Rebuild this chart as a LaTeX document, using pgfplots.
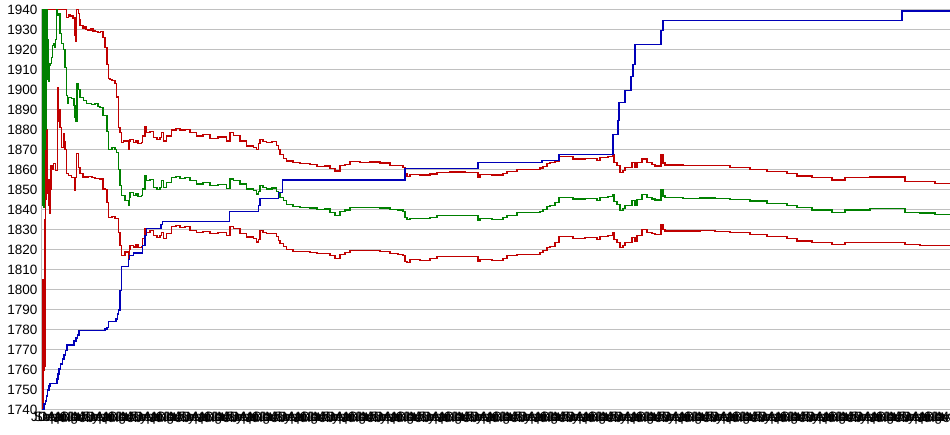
\documentclass[border=0pt]{standalone}
\usepackage{fontspec}
\setmainfont{Liberation Sans}
\usepackage{pgfplots}
\pgfplotsset{compat=1.18}
\usepackage{pgfplotstable}
\definecolor{cred}{HTML}{C00000}
\definecolor{cgreen}{HTML}{008000}
\definecolor{cblue}{HTML}{0000B8}
\definecolor{cgrid}{HTML}{C0C0C0}

\pgfplotstableread{
x up mid lo
100 1929 1891 1855.3
103 1926 1887 1850.3
105 1921 1887 1850
107 1912.5 1879 1843.7
108.3 1905.5 1870 1836
110 1905 1870 1836.3
112 1904.7 1871 1836.5
115 1903 1870 1835.5
116.7 1896.3 1868.5 1835.5
118.3 1881 1860 1828.8
120 1878.4 1852 1822.2
121.7 1873.5 1847 1817.3
123.3 1874.3 1847 1817.3
125 1874.3 1844.5 1818.9
128.3 1870.2 1842 1815.6
129.3 1874 1846 1820
130 1875.1 1848.7 1822.2
133.3 1873.5 1847 1821.4
136 1874.5 1848 1822.5
138 1873 1846.5 1821
141.7 1873.5 1847 1821.4
142.7 1876.8 1850.3 1825.5
145 1881.7 1857 1830.5
146.7 1878.4 1854.5 1828.8
150 1879 1855 1829.5
153.3 1876 1851 1827.2
157 1875 1850 1826
160 1876 1851 1827.2
161.7 1878.4 1854.5 1828.8
163.3 1874.3 1851 1825.5
166.7 1876.8 1853.6 1828
171.7 1879.8 1856 1831.8
176 1880.5 1856.5 1832.3
180 1879.8 1855.6 1831.3
185 1880 1856 1831.5
190 1878.4 1854.5 1829.7
196.7 1876.8 1852.8 1828.8
203 1877.5 1853.5 1829.3
210 1875.6 1852 1828
218 1876.3 1852.5 1828.5
226.7 1874.3 1850.7 1827.2
230 1878.4 1855.3 1831.7
233.3 1877.1 1854.5 1830.5
240 1874.3 1852.8 1828
246.7 1871.8 1850.3 1826.4
253.3 1871 1849.5 1825.5
256.7 1870.2 1847.9 1823.9
258.5 1873 1849 1825
260 1875.1 1852 1829.7
263 1874 1851 1828.5
266.7 1873.5 1850.3 1828
272 1874 1850.8 1828.3
276.7 1872 1849 1826.5
278.3 1870.2 1848 1824.7
280 1867.5 1846 1823
283.3 1865.5 1844.5 1821.5
286.7 1864.4 1842.5 1820
293 1863.5 1841.5 1819.3
300 1863 1841.2 1819
310 1862.5 1840.8 1818.8
317 1861.5 1840 1818
325 1861.8 1840.3 1818.3
330 1860.5 1838.5 1817
335 1859.4 1837 1815.5
340 1862 1839 1817.5
345 1862.5 1839.8 1818.5
350 1864 1841 1819.8
360 1863.5 1841 1819.5
370 1863.8 1841.2 1819.7
380 1863.3 1840.8 1819.3
390 1862.2 1840 1818
398 1862 1839.8 1817.8
403 1861 1839 1817
405 1858 1836 1814
407 1856.5 1835 1813.5
410 1857.5 1835.8 1815
420 1857.3 1835.5 1814.8
430 1857.8 1836 1815.5
437 1858.5 1837 1816.5
450 1858.8 1837.2 1816.8
465 1858.5 1837 1816.5
478 1856 1834.8 1814
480 1857.5 1835.5 1815
492 1857.3 1835.3 1814.8
503 1858 1836 1815.5
507 1859 1837 1817
517 1860 1838.5 1817.5
530 1860.2 1838.5 1817.7
540 1860.8 1839.2 1818.5
543 1861.5 1840 1819.5
547 1863 1841.5 1821
550 1863.6 1842 1821.5
555 1864 1843.5 1823.5
559 1866.6 1846 1826.5
573 1865.3 1845.3 1825.8
585 1865.6 1845.5 1826
597 1864.5 1844.7 1825.3
600 1866 1846 1826.8
608 1866.5 1846.5 1827.3
613 1867.7 1847.7 1828.5
614 1863.6 1844 1825
617 1862 1842.5 1823.5
620 1858.6 1839.5 1821
623 1859.5 1840.5 1822
625 1861 1842 1823.5
632 1863.6 1844.5 1826
635 1861 1842 1824
637 1863.6 1845 1827
642 1865.3 1847.5 1830.3
647 1863.6 1846 1828.8
652 1862.5 1845.3 1828.2
655 1861.8 1844.8 1827.8
661 1867.6 1850 1832.7
663 1863.4 1846.8 1830
665 1862.3 1846 1829.4
683 1862 1845.7 1829.4
700 1862.2 1845.9 1829.5
715 1862 1845.7 1829.3
730 1861 1845.2 1828.6
750 1860 1844.3 1827.8
767 1859 1843.2 1826.6
787 1858 1842.2 1825.6
797 1856.8 1841 1824.4
812 1856 1839.9 1823.6
832 1854.8 1838.5 1822.5
845 1856 1839.9 1823.6
870 1856.3 1840.5 1823.6
885 1856.3 1840.5 1823.8
905 1854 1838.5 1822.5
920 1854 1838.3 1822.3
935 1853.1 1837.7 1822
950 1853.1 1837.7 1822
}\bands

\pgfplotstableread{
x y
42.7 1940
66.7 1936
68.3 1937.5
70 1936.5
71.7 1937
73 1935.5
74.3 1936
75 1927
75.7 1924
76.3 1932
76.7 1940
78.3 1938
79.3 1935
80 1932
83 1930.5
85 1931.5
86 1930
88 1929.7
91 1930.3
93 1929.2
95 1929
98 1928.5
100 1929
}\upearly

\pgfplotstableread{
x y
42.5 1740
43 1805
43.4 1760
44 1770
44.5 1762
45 1835
45.5 1845
46 1895
46.5 1850
47 1880
47.7 1848
48.5 1855
49 1842
50 1838
50.5 1850
51 1862
52 1860
53.3 1863
55.7 1859.7
57.7 1901
58.3 1884
59 1890
60 1881
61.7 1871
63.3 1878
64.2 1874
65 1870
66.7 1858
68.3 1857
71.7 1856
74.3 1849.7
75.5 1856
76.7 1868
78.3 1861
80 1858
83 1856.3
88 1856.5
92 1856
95 1855.5
100 1855.3
}\loearly

\pgfplotstableread{
x y
42.3 1940
42.6 1842
42.9 1940
43.2 1845
43.5 1938
43.8 1841
44.1 1940
44.4 1855
44.7 1940
45 1870
45.3 1940
45.7 1880
46.1 1940
46.5 1905
46.9 1940
47.3 1915
47.7 1925
48.3 1919
48.8 1904
49.3 1912
50 1913
51.7 1916
52.5 1922
53.3 1923
55 1921
55.7 1925
56.5 1940
57.3 1937
58.3 1938
60 1928
61.7 1923
63.3 1920
65 1911
66.7 1897
67.5 1893
68.3 1896
71.7 1895.5
74 1892
75 1886
76 1884
77 1903
78.3 1900
80 1896
83.3 1894.5
86.7 1893
91.7 1892.5
95 1893
98 1891.5
100 1891
}\midearly

\pgfplotstableread{
x y
42 1740
44 1743
45.5 1744.5
46.5 1747
47.5 1750
49 1752
50 1753.3
57 1755.5
58 1758
59 1760.5
60.5 1763
62.5 1765.5
64 1767.5
65.5 1769.7
67 1772.5
74 1774.5
76 1776
77.5 1777.5
79 1779.7
105 1780.5
107 1781.3
108.5 1784.3
116 1785.5
117.5 1788
118.5 1790
120 1799.5
121.5 1811.5
128.3 1815.3
129.3 1817.3
133.3 1818.4
142.7 1822.2
145 1827.2
146.7 1830.5
161 1832.5
162.7 1834.1
229.3 1839
258.3 1842
260 1845.7
278.3 1848.7
282.7 1854.8
405 1860.5
478 1863.5
542 1864.5
559 1867.5
613 1877.5
618 1884.6
619 1893.6
625 1899.5
631 1906.4
633 1912.4
635 1922.4
661 1929.4
663 1934.4
902 1939.3
950 1939.3
}\step

\begin{document}
\begin{tikzpicture}
\begin{axis}[
  scale only axis, width=908pt, height=400.5pt,
  xmin=42, xmax=950, ymin=1740, ymax=1940,
  ytick={1740,1750,...,1940},
  xtick={42,46,...,950},
  xticklabel={\pgfmathtruncatemacro\m{mod(\ticknum,12)}\ifcase\m Jun\or Sep\or Dec\or Mar\or Apr\or Jul\or Aug\or Oct\or Nov\or Jan\or Feb\or May\fi},
  ymajorgrids, grid style={draw=cgrid, line width=1pt},
  major tick length=0pt,
  axis line style={draw=cgrid, line width=1pt},
  tick label style={font=\fontsize{13.5}{14}\selectfont, text=black},
  /pgf/number format/assume math mode=true,
  /pgf/number format/1000 sep={},
  yticklabel style={xshift=-1pt},
  xticklabel style={yshift=1pt},
  every axis plot/.append style={const plot, line width=1.3pt, mark=none},
]
\coordinate (sw) at (rel axis cs:0,0);
\coordinate (ne) at (rel axis cs:1,1);
\addplot[cred] table[x=x,y=y] {\upearly};
\addplot[cred] table[x=x,y=up] {\bands};
\addplot[cred] table[x=x,y=y] {\loearly};
\addplot[cred] table[x=x,y=lo] {\bands};
\addplot[cgreen] table[x=x,y=y] {\midearly};
\addplot[cgreen] table[x=x,y=mid] {\bands};
\addplot[cblue] table[x=x,y=y] {\step};
\end{axis}
\pgfresetboundingbox
\path[use as bounding box] ([xshift=-42pt,yshift=-25pt]sw) rectangle ([yshift=9.5pt]ne);
\end{tikzpicture}
\end{document}
